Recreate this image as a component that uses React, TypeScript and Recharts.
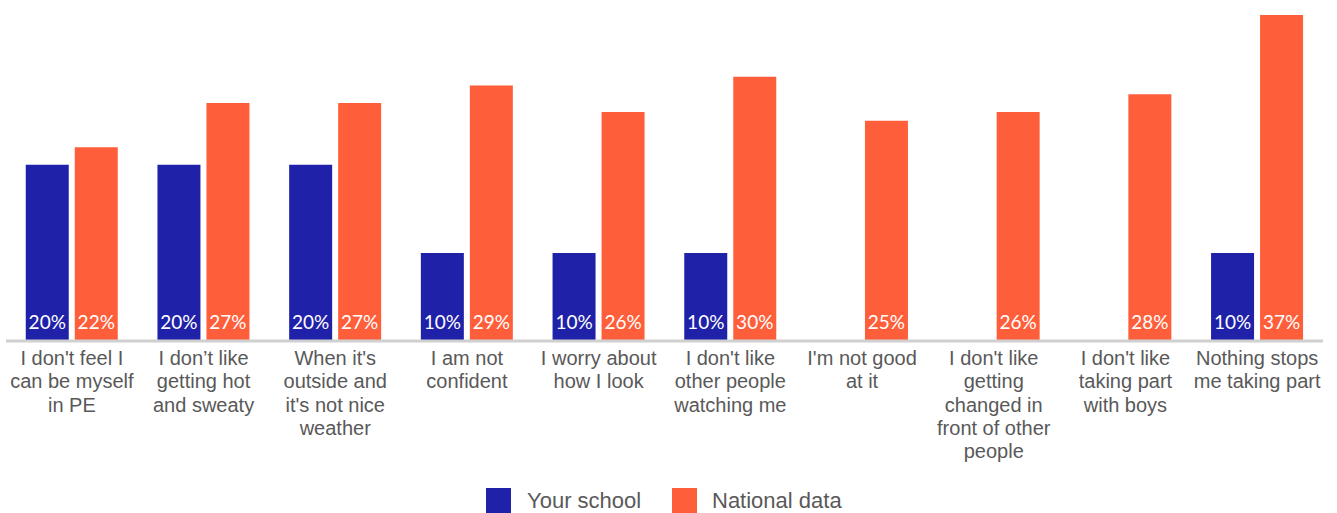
import React from "react";
import {
  BarChart,
  Bar,
  XAxis,
  YAxis,
  Legend,
  LabelList,
  ReferenceLine,
} from "recharts";

document.body.style.margin = "0";

const categories = [
  "I don't feel I\ncan be myself\nin PE",
  "I don’t like\ngetting hot\nand sweaty",
  "When it's\noutside and\nit's not nice\nweather",
  "I am not\nconfident",
  "I worry about\nhow I look",
  "I don't like\nother people\nwatching me",
  "I'm not good\nat it",
  "I don't like\ngetting\nchanged in\nfront of other\npeople",
  "I don't like\ntaking part\nwith boys",
  "Nothing stops\nme taking part",
];
const yourSchool = [20, 20, 20, 10, 10, 10, null, null, null, 10];
const nationalData = [22, 27, 27, 29, 26, 30, 25, 26, 28, 37];

const BLUE = "#1F21A9";
const ORANGE = "#FF5E3A";
const TEXT = "#595959";

const data = categories.map((name, i) => ({
  name,
  school: yourSchool[i],
  national: nationalData[i],
}));

const CategoryTick = (props: any) => {
  const { x, y, payload } = props;
  const lines = String(payload.value).split("\n");
  return (
    <text
      x={x}
      y={y}
      textAnchor="middle"
      fill={TEXT}
      fontFamily="'Liberation Sans', Arial, sans-serif"
      fontSize={20}
    >
      {lines.map((line, i) => (
        <tspan key={i} x={x} y={y + 16 + i * 23.3}>
          {line}
        </tspan>
      ))}
    </text>
  );
};

const ValueLabel = (props: any) => {
  const { x, y, width, height, value } = props;
  if (value == null || value === 0) return null;
  return (
    <text
      x={x + width / 2}
      y={y + height - 12}
      textAnchor="middle"
      fill="#FFFFFF"
      fontFamily="Lato, 'Open Sans', sans-serif"
      fontSize={19}
    >
      {value}%
    </text>
  );
};

const legendItems = [
  { label: "Your school", color: BLUE, square: 486, text: 527 },
  { label: "National data", color: ORANGE, square: 672, text: 712 },
];

const ChartLegend = () => (
  <div style={{ position: "relative", width: 1337, height: 35 }}>
    {legendItems.map((item) => (
      <React.Fragment key={item.label}>
        <div
          style={{
            position: "absolute",
            left: item.square,
            top: 10,
            width: 25,
            height: 25,
            background: item.color,
          }}
        />
        <div
          style={{
            position: "absolute",
            left: item.text,
            top: 10,
            height: 25,
            lineHeight: "25px",
            fontFamily: "'Liberation Sans', Arial, sans-serif",
            fontSize: 22,
            color: TEXT,
            whiteSpace: "nowrap",
          }}
        >
          {item.label}
        </div>
      </React.Fragment>
    ))}
  </div>
);

export default function App() {
  return (
    <BarChart
      width={1337}
      height={513}
      data={data}
      margin={{ top: 15, right: 14, bottom: 0, left: 6 }}
      barCategoryGap="15%"
      barGap={6}
    >
      <XAxis
        dataKey="name"
        interval={0}
        tickLine={false}
        axisLine={false}
        height={137}
        tick={<CategoryTick />}
      />
      <YAxis hide domain={[0, 37]} width={0} />
      <Legend
        verticalAlign="bottom"
        content={<ChartLegend />}
        wrapperStyle={{ left: 0, bottom: 0, width: 1337, height: 35 }}
      />
      <Bar dataKey="school" name="Your school" fill={BLUE} isAnimationActive={false}>
        <LabelList dataKey="school" content={<ValueLabel />} />
      </Bar>
      <Bar dataKey="national" name="National data" fill={ORANGE} isAnimationActive={false}>
        <LabelList dataKey="national" content={<ValueLabel />} />
      </Bar>
      <ReferenceLine y={0} stroke="#D0D0D0" strokeWidth={3} />
    </BarChart>
  );
}
